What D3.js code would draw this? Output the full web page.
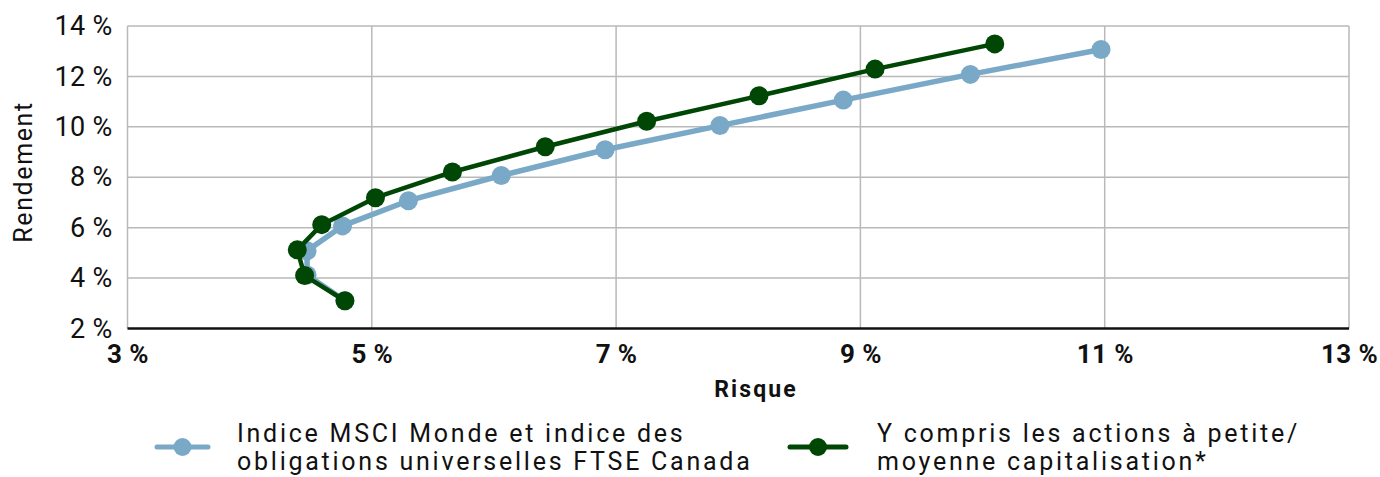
<!DOCTYPE html>
<html><head><meta charset="utf-8">
<script src="https://cdn.jsdelivr.net/npm/d3@7"></script>
<style>
body{margin:0;background:#fff;}
svg{display:block;}
text{font-family:Roboto, "Open Sans", sans-serif;fill:#111;}
</style></head>
<body><svg id="c" width="1380" height="477"></svg>
<script>
const xTicks = [3,5,7,9,11,13];
const yTicks = [2,4,6,8,10,12,14];
const seriesNames = ["Indice MSCI Monde et indice des|obligations universelles FTSE Canada","Y compris les actions à petite/|moyenne capitalisation*"];
const blueRisk =   [4.78,4.47,4.47,4.76,5.30,6.06,6.91,7.85,8.86,9.90,10.97];
const blueReturn = [3.10,4.12,5.08,6.07,7.07,8.07,9.09,10.05,11.06,12.08,13.07];
const greenRisk =   [4.78,4.45,4.39,4.59,5.03,5.66,6.42,7.25,8.17,9.12,10.10];
const greenReturn = [3.10,4.10,5.12,6.12,7.19,8.21,9.21,10.22,11.23,12.29,13.29];
const colors = ["#79a9c7","#004706"];

const svg = d3.select("#c");
const x = d3.scaleLinear().domain([3,13]).range([127.5,1349]);
const y = d3.scaleLinear().domain([2,14]).range([328.5,26]);

// grid
svg.append("g").selectAll("line").data(yTicks.slice(1)).join("line")
  .attr("x1",x(3)).attr("x2",x(13)).attr("y1",d=>y(d)).attr("y2",d=>y(d))
  .attr("stroke","#b9b9b9").attr("stroke-width",1.5);
svg.append("g").selectAll("line").data(xTicks).join("line")
  .attr("x1",d=>x(d)).attr("x2",d=>x(d)).attr("y1",y(14)).attr("y2",y(2))
  .attr("stroke","#b9b9b9").attr("stroke-width",1.5);
// bottom axis line
svg.append("line").attr("x1",x(3)).attr("x2",x(13)).attr("y1",y(2)).attr("y2",y(2))
  .attr("stroke","#111").attr("stroke-width",2.5);

// y axis
const ya = svg.append("g").attr("transform",`translate(${x(3)},0)`)
  .call(d3.axisLeft(y).tickValues(yTicks).tickSize(0).tickPadding(15).tickFormat(d=>d+" %"));
ya.select(".domain").remove();
ya.selectAll("text").style("font-size","27px").style("letter-spacing","0.3px")
  .style("font-family","Roboto, sans-serif").attr("fill","#111");

// x axis
const xa = svg.append("g").attr("transform",`translate(0,${y(2)})`)
  .call(d3.axisBottom(x).tickValues(xTicks).tickSize(0).tickPadding(16).tickFormat(d=>d+" %"));
xa.select(".domain").remove();
xa.selectAll("text").style("font-size","26px").style("font-weight","bold").style("letter-spacing","0.4px")
  .style("font-family","Roboto, sans-serif").attr("fill","#111");

svg.append("text").attr("x",756).attr("y",397).attr("text-anchor","middle")
  .style("font-size","23px").style("font-weight","bold").style("letter-spacing","2.1px").text("Risque");
svg.append("text").attr("transform","translate(32,172) rotate(-90)").attr("text-anchor","middle")
  .style("font-size","25px").style("letter-spacing","1.6px").text("Rendement");

const series = [
  {risk:blueRisk, ret:blueReturn, color:colors[0], w:5.5, r:9.5},
  {risk:greenRisk, ret:greenReturn, color:colors[1], w:4.5, r:9.5}
];
const line = d3.line().x(d=>x(d[0])).y(d=>y(d[1]));
series.forEach(s=>{
  const pts = s.risk.map((v,i)=>[v,s.ret[i]]);
  svg.append("path").attr("d",line(pts)).attr("fill","none").attr("stroke",s.color)
    .attr("stroke-width",s.w).attr("stroke-linejoin","round");
  svg.append("g").selectAll("circle").data(pts).join("circle")
    .attr("cx",d=>x(d[0])).attr("cy",d=>y(d[1])).attr("r",s.r).attr("fill",s.color);
});

// legend
const leg = [{x0:157,x1:208,tx:237},{x0:790,x1:846,tx:877}];
leg.forEach((L,i)=>{
  const g = svg.append("g");
  g.append("line").attr("x1",L.x0).attr("x2",L.x1).attr("y1",447).attr("y2",447)
    .attr("stroke",colors[i]).attr("stroke-width",5).attr("stroke-linecap","round");
  g.append("circle").attr("cx",(L.x0+L.x1)/2).attr("cy",447).attr("r",9).attr("fill",colors[i]);
  const lines = seriesNames[i].split("|");
  lines.forEach((t,j)=>{
    g.append("text").attr("x",L.tx).attr("y",442+j*28).style("font-size","25px")
      .style("letter-spacing","2.75px").text(t);
  });
});
</script></body></html>
